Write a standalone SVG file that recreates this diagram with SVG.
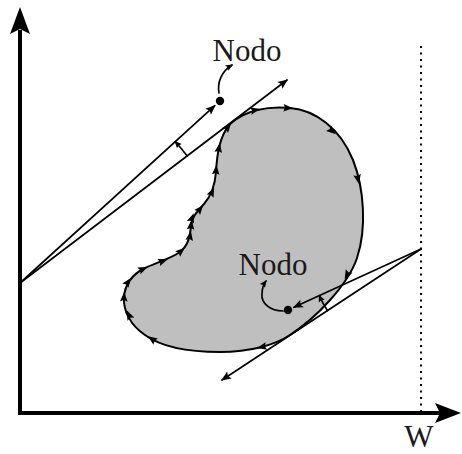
<svg xmlns="http://www.w3.org/2000/svg" xmlns:xlink="http://www.w3.org/1999/xlink" width="462" height="454" viewBox="0 0 462 454">
<style>
.ln{fill:none;stroke:#000;stroke-width:1.7;stroke-linecap:round}
.lbl{font-family:"Liberation Serif","DejaVu Serif",serif;font-size:31px;fill:#1a1a1a;text-anchor:middle}
.blob{fill:#bfbfbf;stroke:#000;stroke-width:2}
</style>
<defs>
<marker id="arr" viewBox="-10 -5 12 10" refX="0" refY="0" markerWidth="12" markerHeight="10" markerUnits="userSpaceOnUse" orient="auto">
<path d="M1,0 L-9,-4.2 L-7,0 L-9,4.2 Z" fill="#000"/>
</marker>
<marker id="arrs" viewBox="-8 -4 10 8" refX="0" refY="0" markerWidth="10" markerHeight="8" markerUnits="userSpaceOnUse" orient="auto">
<path d="M1,0 L-6,-3.2 L-5,0 L-6,3.2 Z" fill="#000"/>
</marker>
<path id="ah" d="M5,0 L-4.5,-3.8 L-3,0 L-4.5,3.8 Z" fill="#000"/>
</defs>

<g id="axes">
<line x1="20" y1="415" x2="20" y2="30" stroke="#000" stroke-width="4"/>
<path d="M20,7 L30,34 L20,29 L10,34 Z" fill="#000"/>
<line x1="18" y1="413" x2="440" y2="413" stroke="#000" stroke-width="4"/>
<path d="M461,413 L435,403 L440,413 L435,423 Z" fill="#000"/>
<line x1="421" y1="46" x2="421" y2="412" stroke="#000" stroke-width="2" stroke-dasharray="2 4.5"/>
<text class="lbl" x="419" y="447">W</text>
</g>

<g id="region">
<path class="blob" d="M230,124 C245,110 268,106 290,108 C315,110 340,128 353,160 C364,188 367,228 357,258 C348,285 316,318 290,335 C275,345 250,352 220,352 C185,352 160,346 145,335 C130,325 123,310 124,297 C125,284 133,274 145,268 C155,263 170,259 180,252 C189,245 190,235 191,226 C192,216 198,211 204,204 C212,195 215,185 216,172 C217,155 219,137 230,124 Z"/>
<g id="boundary-arrows">
<use xlink:href="#ah" transform="translate(228,127) rotate(-50)"/>
<use xlink:href="#ah" transform="translate(255,110) rotate(-12)"/>
<use xlink:href="#ah" transform="translate(288,108) rotate(3)"/>
<use xlink:href="#ah" transform="translate(332,131) rotate(40)"/>
<use xlink:href="#ah" transform="translate(358,179) rotate(78)"/>
<use xlink:href="#ah" transform="translate(347,275) rotate(118)"/>
<use xlink:href="#ah" transform="translate(262,347) rotate(168)"/>
<use xlink:href="#ah" transform="translate(152,339) rotate(215)"/>
<use xlink:href="#ah" transform="translate(129,315) rotate(245)"/>
<use xlink:href="#ah" transform="translate(124,297) rotate(272)"/>
<use xlink:href="#ah" transform="translate(128,282) rotate(305)"/>
<use xlink:href="#ah" transform="translate(143,269) rotate(335)"/>
<use xlink:href="#ah" transform="translate(163,261) rotate(340)"/>
<use xlink:href="#ah" transform="translate(181,251) rotate(318)"/>
<use xlink:href="#ah" transform="translate(190,236) rotate(280)"/>
<use xlink:href="#ah" transform="translate(191,225) rotate(275)"/>
<use xlink:href="#ah" transform="translate(192,218) rotate(290)"/>
<use xlink:href="#ah" transform="translate(200,209) rotate(310)"/>
<use xlink:href="#ah" transform="translate(212,192) rotate(295)"/>
<use xlink:href="#ah" transform="translate(216,170) rotate(274)"/>
<use xlink:href="#ah" transform="translate(219,148) rotate(280)"/>
</g>
</g>

<g id="node-top">
<circle cx="220" cy="101" r="4.2" fill="#000"/>
<text class="lbl" x="247" y="61">Nodo</text>
</g>

<g id="node-bottom">
<circle cx="288" cy="310" r="4.2" fill="#000"/>
<text class="lbl" x="273" y="275">Nodo</text>
</g>

<g id="connectors">
<path class="ln" d="M20,283 L214.8,105.7" marker-end="url(#arr)"/>
<path class="ln" d="M20,283 L287,80" marker-end="url(#arr)"/>
<path class="ln" d="M187.2,155.9 A210,210 0 0 0 175.3,141.7" marker-end="url(#arrs)"/>
<path class="ln" d="M421,249 L293.9,307.3" marker-end="url(#arr)"/>
<path class="ln" d="M421,249 L222,380" marker-end="url(#arr)"/>
<path class="ln" d="M327.5,310.6 A112,112 0 0 1 319.2,295.7" marker-end="url(#arrs)"/>
<path class="ln" d="M219,93 C217,82 222,71 232,65" marker-end="url(#arrs)"/>
<path class="ln" d="M283,311 C270,311 261,303 262,294 C262,289 263,285 266,281" marker-end="url(#arrs)"/>
</g>
</svg>
